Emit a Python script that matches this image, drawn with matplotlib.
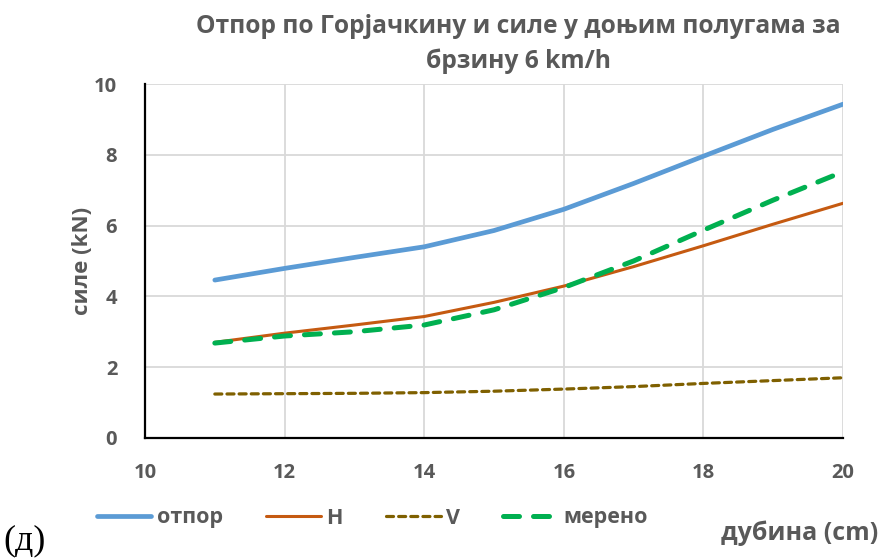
import matplotlib.pyplot as plt
import numpy as np

# Dados
dubina = [11, 12, 13, 14, 15, 16, 17, 18, 19, 20]
otpor = [4.46, 4.79, 5.10, 5.40, 5.86, 6.46, 7.19, 7.96, 8.72, 9.43]
sila_h = [2.70, 2.96, 3.19, 3.43, 3.83, 4.29, 4.84, 5.43, 6.04, 6.63]
sila_v = [1.24, 1.25, 1.26, 1.28, 1.32, 1.38, 1.45, 1.54, 1.62, 1.70]
mereno = [2.68, 2.88, 3.00, 3.19, 3.62, 4.25, 5.00, 5.87, 6.72, 7.52]

siva = '#595959'
plt.rcParams['font.family'] = ['Open Sans', 'DejaVu Sans']

fig = plt.figure(figsize=(8.8, 5.6), dpi=100)
ax = fig.add_axes([0.1648, 0.218, 0.7932, 0.632])

ax.plot(dubina, otpor, color='#5B9BD5', lw=3.4, solid_capstyle='round', label='отпор')
ax.plot(dubina, sila_h, color='#C55A11', lw=2.2, solid_capstyle='round', label='H')
ax.plot(dubina, sila_v, color='#7F6000', lw=2.3, dashes=(2.2, 1.6), dash_capstyle='round', label='V')
ax.plot(dubina, mereno, color='#00B050', lw=3.6, dashes=(3.2, 2.8), dash_capstyle='round', label='мерено')

ax.set_xlim(10, 20)
ax.set_ylim(0, 10)
ax.set_xticks(np.arange(10, 21, 2))
ax.set_yticks(np.arange(0, 11, 2))
ax.grid(True, color='#D9D9D9', lw=1.3)
ax.set_axisbelow(True)
for s in ['top', 'right']:
    ax.spines[s].set_visible(False)
for s in ['left', 'bottom']:
    ax.spines[s].set_linewidth(1.6)
    ax.spines[s].set_color('black')
ax.tick_params(length=0, labelsize=14.5, labelcolor=siva)
ax.tick_params(axis='y', pad=20)
ax.tick_params(axis='x', pad=18)
for lab in ax.get_xticklabels() + ax.get_yticklabels():
    lab.set_fontweight('bold')

ax.set_ylabel('силе (kN)', fontsize=16, fontweight='bold', color=siva, labelpad=1)
fig.text(0.589, 0.975, 'Отпор по Горјачкину и силе у доњим полугама за\nбрзину 6 km/h',
         ha='center', va='top', fontsize=17.7, fontweight='bold', color=siva, linespacing=1.5)

fig.legend(loc='center', bbox_to_anchor=(0.423, 0.075), ncol=4, frameon=False,
           handlelength=2.55, handletextpad=0.25, columnspacing=2.0,
           prop={'size': 15.5, 'weight': 'bold'}, labelcolor=siva)

fig.text(0.998, 0.048, 'дубина (cm)', ha='right', va='center', fontsize=18,
         fontweight='bold', color=siva)
fig.text(0.004, 0.035, '(д)', ha='left', va='center', fontsize=26,
         family=['Liberation Serif', 'DejaVu Serif'], color='black')

fig.savefig('out.png', dpi=100)
